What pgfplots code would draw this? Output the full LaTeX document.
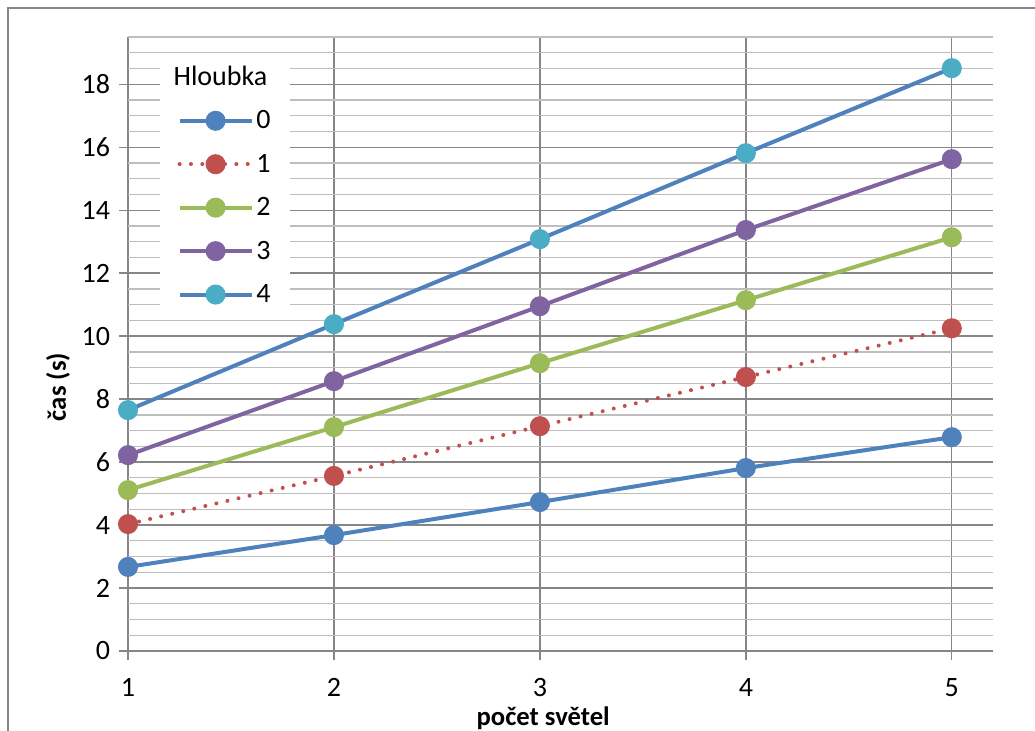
\documentclass[border=0pt]{standalone}
\usepackage{pgfplots}
\pgfplotsset{compat=1.18}
\usepackage{fontspec}
\setmainfont{Carlito}
\definecolor{cblue}{HTML}{4F81BD}
\definecolor{cred}{HTML}{C0504D}
\definecolor{cgreen}{HTML}{9BBB59}
\definecolor{cpurple}{HTML}{8064A2}
\definecolor{ccyan}{HTML}{4BACC6}
\definecolor{gridmaj}{HTML}{868686}
\definecolor{gridmin}{HTML}{BEBEBE}
\begin{document}
\begin{tikzpicture}
\path[use as bounding box] (-96pt,-60pt) rectangle (680.25pt,488.25pt);
\draw[gridmaj, line width=1.2pt] (-90pt,-60pt) -- (-90pt,482.25pt) -- (680.25pt,482.25pt);
\begin{axis}[
  at={(0pt,0pt)}, anchor=south west,
  scale only axis, width=648.75pt, height=460.5pt,
  xmin=1, xmax=5.2, ymin=0, ymax=19.5,
  xtick={1,2,3,4,5}, ytick={0,2,...,18},
  minor ytick={0.5,1,...,19.5},
  font=\fontsize{21}{25}\selectfont,
  tick label style={font=\fontsize{21}{25}\selectfont},
  label style={font=\fontsize{20}{24}\selectfont},
  /pgf/number format/assume math mode=true,
  axis line style={draw=none},
  xmajorgrids, ymajorgrids, yminorgrids,
  major grid style={gridmaj, line width=1pt},
  minor grid style={gridmin, line width=1pt},
  tick style={gridmaj, line width=1pt},
  major tick length=7pt, minor tick length=0pt,
  xtick pos=bottom, ytick pos=left,
  tick align=outside,
  xticklabel style={yshift=-10pt},
  yticklabel style={xshift=-3pt},
  xlabel={\textbf{počet světel}},
  ylabel={\textbf{čas (s)}},
  xlabel style={at={(axis description cs:0.48,0)}, anchor=base, yshift=-56pt},
  ylabel style={at={(axis description cs:0,0.43)}, yshift=40pt},
  legend style={at={(0.037,0.962)}, anchor=north west, draw=none, fill=white,
    font=\fontsize{21}{25}\selectfont, row sep=13.5pt, cells={anchor=west},
    inner xsep=13pt, inner ysep=2pt},
  legend cell align=left,
  legend image code/.code={\draw[mark repeat=2,mark phase=2] plot coordinates {(0pt,0pt)(27pt,0pt)(54pt,0pt)};},
  every axis plot/.append style={line width=3pt, mark=*, mark size=6pt, mark options={solid}},
]
\addlegendimage{empty legend}
\addlegendentry{\hspace{-62pt}Hloubka}
\addplot[cblue, mark options={fill=cblue, draw=cblue}] coordinates {(1,2.67)(2,3.68)(3,4.73)(4,5.81)(5,6.79)};
\addlegendentry{0}
\addplot[cred, line cap=round, dash pattern=on 0.01pt off 8.5pt, line width=3pt, mark options={fill=cred, draw=cred, solid}] coordinates {(1,4.03)(2,5.56)(3,7.14)(4,8.70)(5,10.25)};
\addlegendentry{1}
\addplot[cgreen, mark options={fill=cgreen, draw=cgreen}] coordinates {(1,5.11)(2,7.11)(3,9.14)(4,11.14)(5,13.14)};
\addlegendentry{2}
\addplot[cpurple, mark options={fill=cpurple, draw=cpurple}] coordinates {(1,6.22)(2,8.57)(3,10.95)(4,13.37)(5,15.62)};
\addlegendentry{3}
\addplot[cblue, mark options={fill=ccyan, draw=ccyan}] coordinates {(1,7.65)(2,10.38)(3,13.08)(4,15.81)(5,18.51)};
\addlegendentry{4}
\end{axis}
\end{tikzpicture}
\end{document}
